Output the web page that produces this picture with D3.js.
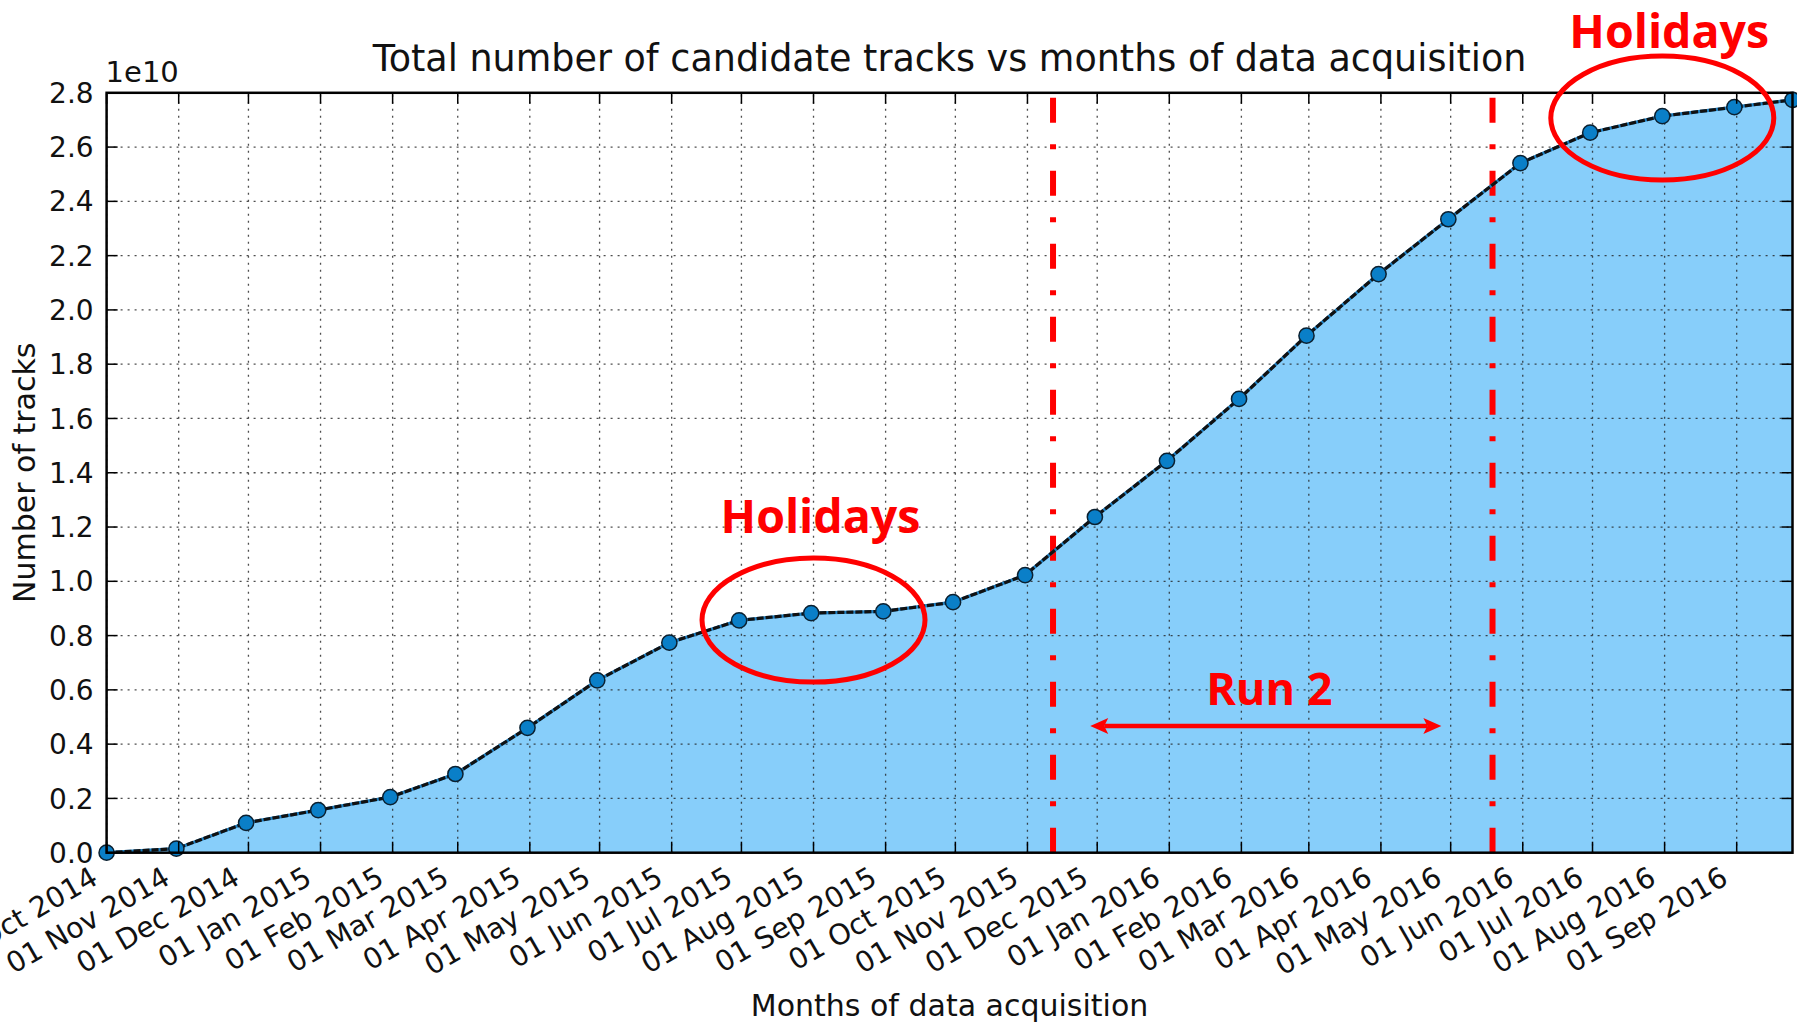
<!DOCTYPE html>
<html><head><meta charset="utf-8">
<script src="https://cdn.jsdelivr.net/npm/d3@7"></script>
<style>body{margin:0;background:#fff;overflow:hidden} svg{display:block}</style>
</head><body>
<svg id="chart" width="1797" height="1025"></svg>
<script>
// ---- data (values in units of 1e10 tracks) ----
const dates = ["2014-10-01","2014-10-31","2014-11-30","2014-12-31","2015-01-31","2015-02-28",
  "2015-03-31","2015-04-30","2015-05-31","2015-06-30","2015-07-31","2015-08-31","2015-09-30",
  "2015-10-31","2015-11-30","2015-12-31","2016-01-31","2016-02-29","2016-03-31","2016-04-30",
  "2016-05-31","2016-06-30","2016-07-31","2016-08-31","2016-09-25"];
const tracks = [0.0,0.015,0.11,0.157,0.205,0.29,0.46,0.635,0.774,0.856,0.883,0.889,0.923,
  1.023,1.237,1.444,1.672,1.905,2.132,2.334,2.541,2.653,2.714,2.747,2.774];
const yTicks = [0,0.2,0.4,0.6,0.8,1.0,1.2,1.4,1.6,1.8,2.0,2.2,2.4,2.6,2.8];
const yTickLabels = ["0.0","0.2","0.4","0.6","0.8","1.0","1.2","1.4","1.6","1.8","2.0","2.2","2.4","2.6","2.8"];
const xTickStart = "2014-10-01", xTickEnd = "2016-09-01";
const titleText = "Total number of candidate tracks vs months of data acquisition";
const xLabel = "Months of data acquisition";
const yLabel = "Number of tracks";
const offsetText = "1e10";
// annotations (data coordinates)
const runLines = ["2015-11-12","2016-05-19"];
const runArrow = {from:"2015-11-28", to:"2016-04-27", value:0.467};
const runText = {date:"2016-02-13", value:0.544, text:"Run 2"};
const holidayCircles = [{date:"2015-08-01", value:0.857},{date:"2016-07-31", value:2.707}];
const holidayTexts = [{date:"2015-08-04", value:1.178, text:"Holidays"},{date:"2016-08-03", value:2.965, text:"Holidays"}];

// ---- setup ----
const parse = d3.utcParse("%Y-%m-%d");
const W = 1797, H = 1025;
const L = 106.6, R = 1792.5, T = 92.8, B = 852.7;
const svg = d3.select("#chart");
const data = dates.map((d,i)=>({date:parse(d), v:tracks[i]}));
const x = d3.scaleUtc().domain([data[0].date, data[data.length-1].date]).range([L,R]);
const y = d3.scaleLinear().domain([0,2.8]).range([B,T]);
const xTicks = d3.utcMonth.range(parse(xTickStart), d3.utcDay.offset(parse(xTickEnd),1));
const fmt = d3.utcFormat("%d %b %Y");
const FONT = "'DejaVu Sans', sans-serif";

// fill
svg.append("path").datum(data)
  .attr("d", d3.area().x(d=>x(d.date)).y0(y(0)).y1(d=>y(d.v)))
  .attr("fill","#87CEFA");

// grid
const grid = svg.append("g").attr("stroke","#222").attr("stroke-width",1.3)
  .attr("stroke-dasharray","2,5").attr("opacity",0.8);
grid.selectAll("line.gx").data(xTicks).join("line")
  .attr("x1",d=>x(d)).attr("x2",d=>x(d)).attr("y1",B).attr("y2",T);
grid.selectAll("line.gy").data(yTicks).join("line")
  .attr("x1",L).attr("x2",R).attr("y1",d=>y(d)).attr("y2",d=>y(d));

// red run lines (dash-dot)
svg.append("g").selectAll("line").data(runLines).join("line")
  .attr("x1",d=>x(parse(d))).attr("x2",d=>x(parse(d)))
  .attr("y1",y(0)).attr("y2",y(2.8))
  .attr("stroke","#ff0000").attr("stroke-width",6)
  .attr("stroke-dasharray","25,21.5,5,21.5");

// data line
const line = d3.line().x(d=>x(d.date)).y(d=>y(d.v));
svg.append("path").datum(data).attr("d",line).attr("fill","none")
  .attr("stroke","#1f7fc0").attr("stroke-width",3.2);
svg.append("path").datum(data).attr("d",line).attr("fill","none")
  .attr("stroke","#111").attr("stroke-width",3.2).attr("stroke-dasharray","7,2");

// markers
svg.append("g").selectAll("circle").data(data).join("circle")
  .attr("cx",d=>x(d.date)).attr("cy",d=>y(d.v)).attr("r",7.6)
  .attr("fill","#0a7fc8").attr("stroke","#0b2030").attr("stroke-width",1.5);

// spines
svg.append("rect").attr("x",L).attr("y",T).attr("width",R-L).attr("height",B-T)
  .attr("fill","none").attr("stroke","#000").attr("stroke-width",2.5);

// ticks (inward, all sides)
const tl = 11;
const tk = svg.append("g").attr("stroke","#000").attr("stroke-width",1.5);
tk.selectAll("line.b").data(xTicks).join("line").attr("class","b")
  .attr("x1",d=>x(d)).attr("x2",d=>x(d)).attr("y1",B).attr("y2",B-tl);
tk.selectAll("line.t").data(xTicks).join("line").attr("class","t")
  .attr("x1",d=>x(d)).attr("x2",d=>x(d)).attr("y1",T).attr("y2",T+tl);
tk.selectAll("line.l").data(yTicks).join("line").attr("class","l")
  .attr("x1",L).attr("x2",L+tl).attr("y1",d=>y(d)).attr("y2",d=>y(d));
tk.selectAll("line.r").data(yTicks).join("line").attr("class","r")
  .attr("x1",R).attr("x2",R-tl).attr("y1",d=>y(d)).attr("y2",d=>y(d));

// y tick labels
svg.append("g").selectAll("text").data(yTicks).join("text")
  .attr("x",L-13).attr("y",d=>y(d)).attr("dy","0.36em")
  .attr("text-anchor","end").attr("font-family",FONT).attr("font-size",28).attr("fill","#111")
  .text((d,i)=>yTickLabels[i]);

// x tick labels (rotated 30deg)
svg.append("g").selectAll("text").data(xTicks).join("text")
  .attr("x",d=>x(d)-7).attr("y",883)
  .attr("transform",d=>`rotate(-30,${x(d)-7},883)`)
  .attr("text-anchor","end").attr("font-family",FONT).attr("font-size",28.5).attr("fill","#111")
  .text(d=>fmt(d));

// offset text
svg.append("text").attr("x",L-1).attr("y",82).attr("font-family",FONT).attr("font-size",29)
  .attr("fill","#111").text(offsetText);

// title and axis labels
svg.append("text").attr("x",(L+R)/2).attr("y",71).attr("text-anchor","middle")
  .attr("font-family",FONT).attr("font-size",36.5).attr("fill","#111").text(titleText);
svg.append("text").attr("x",(L+R)/2).attr("y",1016).attr("text-anchor","middle")
  .attr("font-family",FONT).attr("font-size",30).attr("fill","#111").text(xLabel);
svg.append("text").attr("transform",`translate(35,${(T+B)/2}) rotate(-90)`).attr("text-anchor","middle")
  .attr("font-family",FONT).attr("font-size",30).attr("fill","#111").text(yLabel);

// ---- annotations ----
const RED = "#ff0000";
const AFONT = "'Open Sans', 'Noto Sans', sans-serif";
svg.append("g").selectAll("ellipse").data(holidayCircles).join("ellipse")
  .attr("cx",d=>x(parse(d.date))).attr("cy",d=>y(d.value)).attr("rx",111.5).attr("ry",62)
  .attr("fill","none").attr("stroke",RED).attr("stroke-width",5);
svg.append("g").selectAll("text").data(holidayTexts).join("text")
  .attr("x",d=>x(parse(d.date))).attr("y",d=>y(d.value)).attr("text-anchor","middle")
  .attr("font-family",AFONT).attr("font-weight",700).attr("font-size",46.5).attr("fill",RED)
  .text(d=>d.text);
svg.append("text").attr("x",x(parse(runText.date))).attr("y",y(runText.value)).attr("text-anchor","middle")
  .attr("font-family",AFONT).attr("font-weight",700).attr("font-size",45).attr("fill",RED)
  .text(runText.text);
// double arrow
const ax1 = x(parse(runArrow.from)), ax2 = x(parse(runArrow.to)), ay = y(runArrow.value);
const hl = 16, hw = 8;
svg.append("line").attr("x1",ax1+hl-2).attr("x2",ax2-hl+2).attr("y1",ay).attr("y2",ay)
  .attr("stroke",RED).attr("stroke-width",4.5);
svg.append("path").attr("fill",RED)
  .attr("d",`M${ax1},${ay} L${ax1+hl+2},${ay-hw} L${ax1+hl-2},${ay} L${ax1+hl+2},${ay+hw} Z`);
svg.append("path").attr("fill",RED)
  .attr("d",`M${ax2},${ay} L${ax2-hl-2},${ay-hw} L${ax2-hl+2},${ay} L${ax2-hl-2},${ay+hw} Z`);
</script>
</body></html>
